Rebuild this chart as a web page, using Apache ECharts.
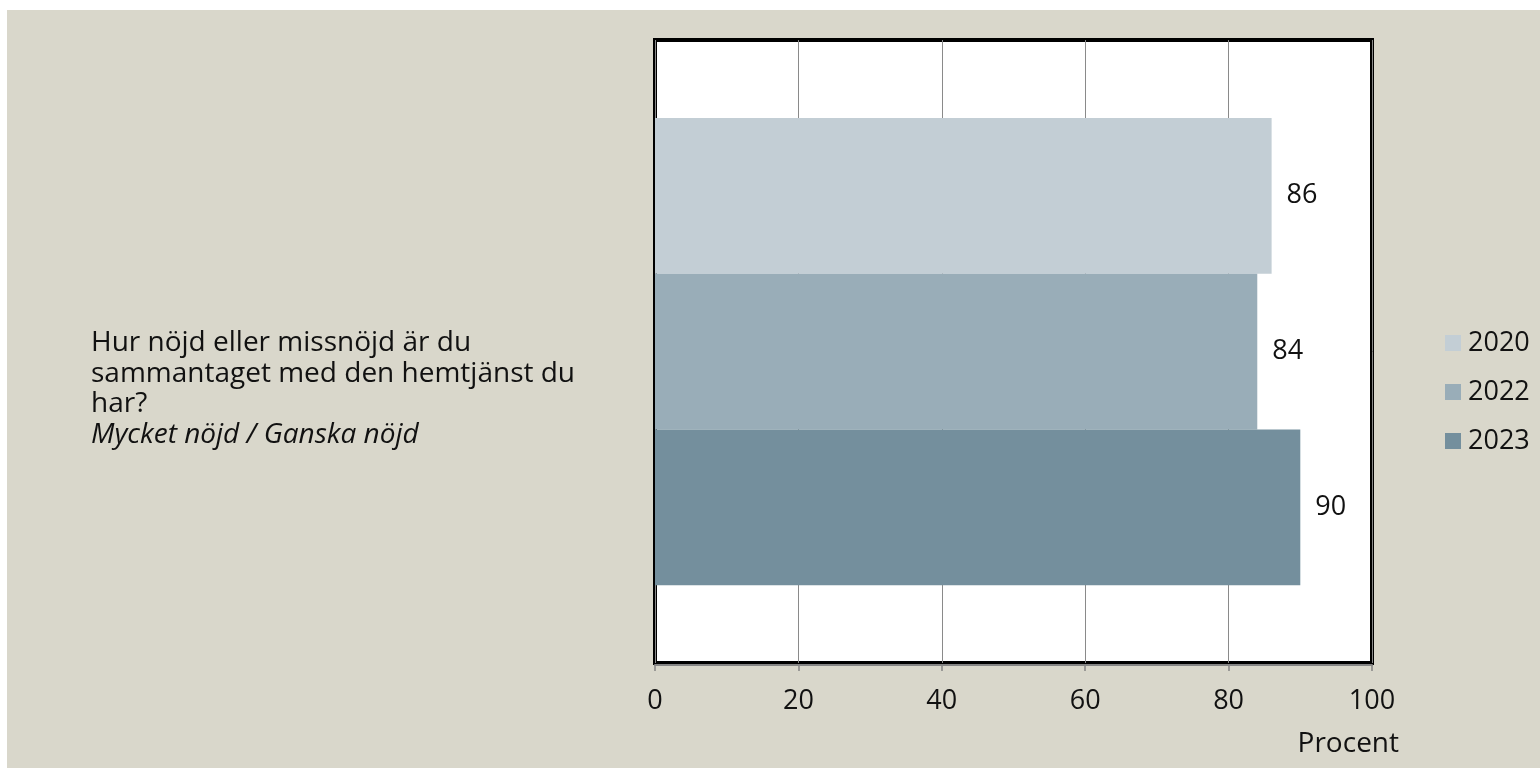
<!DOCTYPE html>
<html>
<head>
<meta charset="utf-8">
<script src="https://cdn.jsdelivr.net/npm/echarts@6/dist/echarts.min.js"></script>
<style>
html,body{margin:0;padding:0;background:#ffffff;}
#chart{position:absolute;left:7px;top:10px;width:1533px;height:758px;}
</style>
</head>
<body>
<div id="chart"></div>
<script>
const categories = ['Hur nöjd eller missnöjd är du\nsammantaget med den hemtjänst du\nhar?'];
const subtitle = 'Mycket nöjd / Ganska nöjd';
const seriesNames = ['2020', '2022', '2023'];
const values2020 = [86];
const values2022 = [84];
const values2023 = [90];
const xTicks = [0, 20, 40, 60, 80, 100];
const colors = ['#c3ced5', '#99adb8', '#748f9d'];
const FONT = 'Open Sans';

const chart = echarts.init(document.getElementById('chart'));
const seriesData = [values2020, values2022, values2023];

chart.setOption({
  backgroundColor: '#d9d7cb',
  animation: false,
  textStyle: { fontFamily: FONT },
  legend: {
    orient: 'vertical',
    left: 1438,
    top: 319,
    padding: 0,
    itemWidth: 16,
    itemHeight: 16,
    itemGap: 21,
    icon: 'rect',
    textStyle: { fontSize: 27, lineHeight: 28, color: '#111', fontFamily: FONT, padding: [0, 0, 0, 2] },
    data: seriesNames
  },
  grid: {
    left: 648,
    top: 30,
    width: 717,
    height: 623,
    show: true,
    backgroundColor: '#ffffff',
    borderColor: '#000000',
    borderWidth: 4
  },
  xAxis: {
    type: 'value',
    min: xTicks[0],
    max: xTicks[xTicks.length - 1],
    interval: 20,
    offset: 2,
    name: 'Procent',
    nameLocation: 'end',
    nameGap: 27,
    nameMoveOverlap: false,
    nameTextStyle: { fontSize: 28, lineHeight: 28, color: '#111', align: 'right', verticalAlign: 'top', padding: [65, 0, 0, 0], fontFamily: FONT },
    axisLine: { show: true, lineStyle: { color: '#858585', width: 2 } },
    axisTick: { show: true, length: 6, lineStyle: { color: '#858585', width: 1.5 } },
    axisLabel: { fontSize: 27, color: '#111', margin: 23, fontFamily: FONT },
    splitLine: { show: true, lineStyle: { color: '#8a8a8a', width: 1 } }
  },
  yAxis: {
    type: 'category',
    inverse: true,
    data: categories,
    axisLine: { show: false },
    axisTick: { show: false },
    axisLabel: {
      margin: 564,
      align: 'left',
      fontSize: 28,
      lineHeight: 30.5,
      color: '#111',
      fontFamily: FONT,
      padding: [75, 0, 0, 0],
      formatter: function (v) {
        return '{n|' + v.split('\n').join('}\n{n|') + '}\n{i|' + subtitle + '}';
      },
      rich: {
        n: { fontSize: 28, lineHeight: 30.5, color: '#111', fontFamily: FONT, align: 'left' },
        i: { fontSize: 28, lineHeight: 30.5, color: '#111', fontFamily: FONT, fontStyle: 'italic', align: 'left' }
      }
    }
  },
  series: seriesNames.map(function (name, i) {
    return {
      name: name,
      type: 'bar',
      data: seriesData[i],
      barGap: '0%',
      barCategoryGap: '25%',
      itemStyle: { color: colors[i] },
      label: {
        show: true,
        position: 'right',
        distance: 15,
        fontSize: 27,
        color: '#111',
        fontFamily: FONT
      }
    };
  })
});
</script>
</body>
</html>
